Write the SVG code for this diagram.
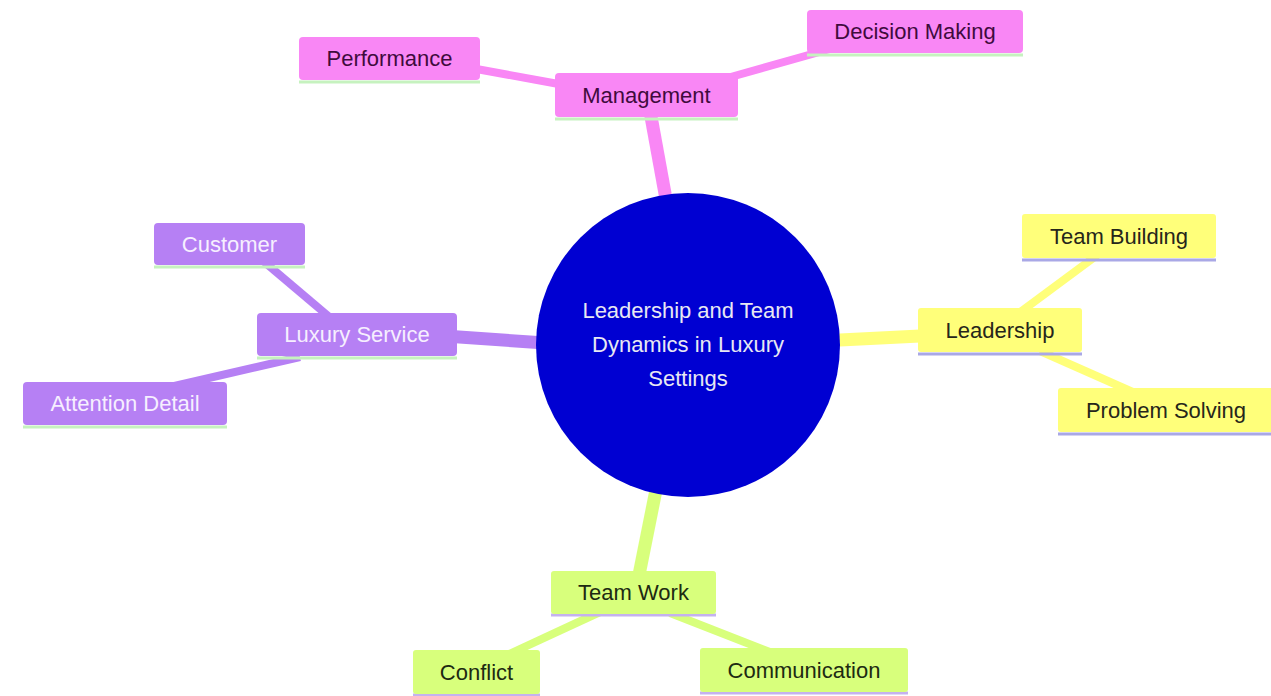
<svg xmlns="http://www.w3.org/2000/svg" width="1271" height="696" viewBox="0 0 1271 696">
<style>
text{font-family:"Liberation Sans",Arial,sans-serif;font-size:22px;text-anchor:middle}
.e{fill:none;stroke-linecap:butt}
.d1{stroke-width:13}
.d2{stroke-width:8}
.pk{fill:#f987f5}.pkl{stroke:#f987f5}.pkt{fill:#3f0b3d}
.pu{fill:#b680f4}.pul{stroke:#b680f4}.put{fill:#f6efff}
.ye{fill:#ffff7a}.yel{stroke:#ffff7a}.yet{fill:#26261a}
.li{fill:#d8ff7c}.lil{stroke:#d8ff7c}.lit{fill:#1d2a12}
.ug{stroke:#c6f2bf;stroke-width:3}
.ub{stroke:#a9a8e6;stroke-width:3}
.ul{stroke:#c4b2ef;stroke-width:3}
</style>
<rect width="1271" height="696" fill="#ffffff"/>
<g id="connectors">
<line class="e d1 pkl" x1="648" y1="100" x2="668" y2="210"/>
<line class="e d1 pul" x1="430" y1="335" x2="560" y2="344"/>
<line class="e d1 yel" x1="820" y1="341" x2="940" y2="335"/>
<line class="e d1 lil" x1="659" y1="475" x2="636" y2="590"/>
<line class="e d2 pkl" x1="460" y1="66" x2="575" y2="87"/>
<line class="e d2 pkl" x1="720" y1="80" x2="830" y2="49"/>
<line class="e d2 pul" x1="255" y1="254" x2="340" y2="326"/>
<line class="e d2 pul" x1="300" y1="357" x2="170" y2="387"/>
<line class="e d2 yel" x1="1015" y1="316" x2="1100" y2="253"/>
<line class="e d2 yel" x1="1040" y1="351" x2="1135" y2="393"/>
<line class="e d2 lil" x1="600" y1="612" x2="505" y2="656"/>
<line class="e d2 lil" x1="670" y1="613" x2="775" y2="654"/>
</g>
<g id="root">
<circle cx="688" cy="345" r="152" fill="#0000d2"/>
<text x="688" y="318" fill="#e8e8f2">Leadership and Team</text>
<text x="688" y="352" fill="#e8e8f2">Dynamics in Luxury</text>
<text x="688" y="386" fill="#e8e8f2">Settings</text>
</g>
<g id="management">
<line class="ug" x1="555" y1="119" x2="738" y2="119"/>
<rect class="pk" x="555" y="73" width="183" height="44" rx="4"/>
<text class="pkt" x="646.5" y="102.7">Management</text>
</g>
<g id="performance">
<line class="ug" x1="299" y1="82" x2="480" y2="82"/>
<rect class="pk" x="299" y="37" width="181" height="43" rx="4"/>
<text class="pkt" x="389.5" y="66.2">Performance</text>
</g>
<g id="decision-making">
<line class="ug" x1="807" y1="55" x2="1023" y2="55"/>
<rect class="pk" x="807" y="10" width="216" height="43" rx="4"/>
<text class="pkt" x="915" y="39.2">Decision Making</text>
</g>
<g id="luxury-service">
<line class="ug" x1="257" y1="358" x2="457" y2="358"/>
<rect class="pu" x="257" y="313" width="200" height="43" rx="4"/>
<text class="put" x="357" y="342.2">Luxury Service</text>
</g>
<g id="customer">
<line class="ug" x1="154" y1="267" x2="305" y2="267"/>
<rect class="pu" x="154" y="223" width="151" height="42" rx="4"/>
<text class="put" x="229.5" y="251.7">Customer</text>
</g>
<g id="attention-detail">
<line class="ug" x1="23" y1="427" x2="227" y2="427"/>
<rect class="pu" x="23" y="382" width="204" height="43" rx="4"/>
<text class="put" x="125" y="411.2">Attention Detail</text>
</g>
<g id="leadership">
<line class="ub" x1="918" y1="354" x2="1082" y2="354"/>
<rect class="ye" x="918" y="308" width="164" height="44" rx="3"/>
<text class="yet" x="1000" y="337.7">Leadership</text>
</g>
<g id="team-building">
<line class="ub" x1="1022" y1="260" x2="1216" y2="260"/>
<rect class="ye" x="1022" y="214" width="194" height="44" rx="3"/>
<text class="yet" x="1119" y="243.7">Team Building</text>
</g>
<g id="problem-solving">
<line class="ub" x1="1058" y1="434" x2="1274" y2="434"/>
<rect class="ye" x="1058" y="388" width="216" height="44" rx="3"/>
<text class="yet" x="1166" y="417.7">Problem Solving</text>
</g>
<g id="team-work">
<line class="ul" x1="551" y1="615" x2="716" y2="615"/>
<rect class="li" x="551" y="571" width="165" height="43" rx="3"/>
<text class="lit" x="633.5" y="600.2">Team Work</text>
</g>
<g id="conflict">
<line class="ul" x1="413" y1="695" x2="540" y2="695"/>
<rect class="li" x="413" y="650" width="127" height="44" rx="3"/>
<text class="lit" x="476.5" y="679.7">Conflict</text>
</g>
<g id="communication">
<line class="ul" x1="700" y1="693" x2="908" y2="693"/>
<rect class="li" x="700" y="648" width="208" height="44" rx="3"/>
<text class="lit" x="804" y="677.7">Communication</text>
</g>
</svg>
